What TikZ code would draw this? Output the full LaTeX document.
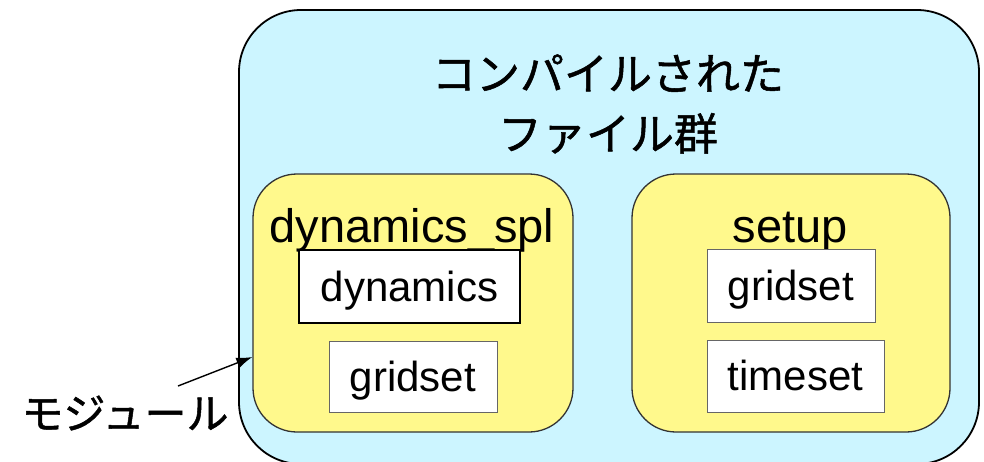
\documentclass[tikz,border=0pt]{standalone}
\usepackage{fontspec}
\setmainfont{Liberation Sans}
\newfontfamily\jafont{Noto Sans CJK JP}[FakeBold=1.2]
\usetikzlibrary{arrows.meta}

\tikzset{
  groupbox/.style={draw=black, line width=1.8pt, fill=blue!20!cyan!20, rounded corners=62pt},
  modbox/.style={draw=black!80, line width=1.3pt, fill=yellow!45, rounded corners=44pt,
    minimum width=#1, minimum height=258pt},
  filebox/.style={draw=black!60, line width=1pt, fill=white, inner sep=0pt,
    text height=29pt, text depth=0pt, font=\fontsize{42}{48}\selectfont},
  modlabel/.style={anchor=base, font=\fontsize{47}{52}\selectfont},
}

\begin{document}
\begin{tikzpicture}[x=1pt, y=-1pt]
  \useasboundingbox (0,0) rectangle (984,461);

  % compiled files
  \node[groupbox, minimum width=740pt, minimum height=454pt] (compiled) at (609,237) {};
  \node[font=\jafont\fontsize{44}{60}\selectfont, align=center] (title) at (608,104)
    {コンパイルされた\\ファイル群};

  % modules
  \node[modbox=320pt] (lmod) at (413,303) {};
  \node[modbox=318pt] (rmod) at (791,303) {};
  \node[modlabel] (lname) at (412,242) {dynamics\_spl};
  \node[modlabel] (rname) at (790,242) {setup};

  % files
  \node[filebox, draw=black, line width=1.5pt, minimum width=221pt, minimum height=73pt] (dyn) at (409.5,286.5) {dynamics};
  \node[filebox, minimum width=168pt, minimum height=71pt] (lgrid) at (413,376.5) {gridset};
  \node[filebox, minimum width=168pt, minimum height=73pt] (rgrid) at (791,285.5) {gridset};
  \node[filebox, minimum width=177pt, minimum height=72pt] (time) at (795.5,376) {timeset};

  % pointer to a module
  \node[font=\jafont\fontsize{42}{48}\selectfont] (modnote) at (125,413) {モジュール};
  \coordinate (tail) at (178,386);
  \draw[line width=1.4pt, -{Latex[length=16pt,width=11pt]}] (tail) -- ([yshift=-54pt]lmod.west);
\end{tikzpicture}
\end{document}
